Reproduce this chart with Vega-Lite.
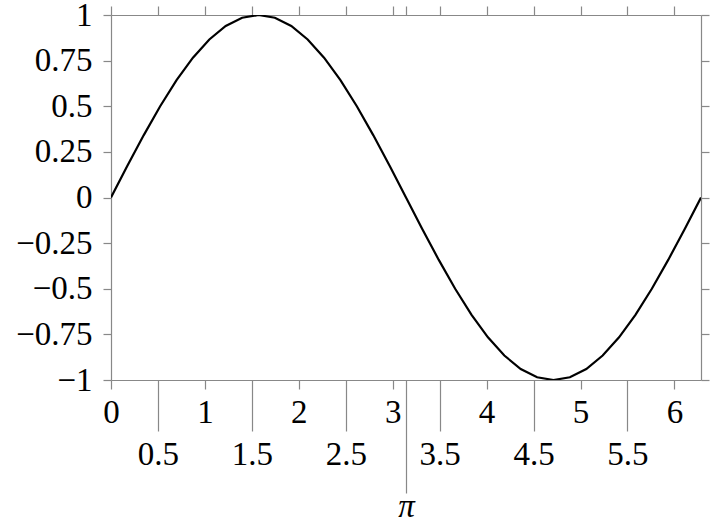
{
  "$schema": "https://vega.github.io/schema/vega-lite/v6.json",
  "autosize": {"type": "none"},
  "padding": {"left": 111, "top": 15, "right": 15, "bottom": 143},
  "width": 590,
  "height": 365,
  "background": "white",
  "config": {
    "view": {"stroke": null},
    "axis": {
      "grid": false,
      "title": null,
      "domainColor": "#888888",
      "domainWidth": 1.2,
      "tickColor": "#888888",
      "tickWidth": 1.2,
      "labelFont": "Liberation Serif",
      "labelFontSize": 33,
      "labelColor": "black",
      "labelOverlap": false,
      "labelFlush": false,
      "labelBound": false,
      "format": ".2~f"
    }
  },
  "data": {
    "values": [
      {"x": 0, "y": 0},
      {"x": 0.1745, "y": 0.1736},
      {"x": 0.3491, "y": 0.342},
      {"x": 0.5236, "y": 0.5},
      {"x": 0.6981, "y": 0.6428},
      {"x": 0.8727, "y": 0.766},
      {"x": 1.0472, "y": 0.866},
      {"x": 1.2217, "y": 0.9397},
      {"x": 1.3963, "y": 0.9848},
      {"x": 1.5708, "y": 1},
      {"x": 1.7453, "y": 0.9848},
      {"x": 1.9199, "y": 0.9397},
      {"x": 2.0944, "y": 0.866},
      {"x": 2.2689, "y": 0.766},
      {"x": 2.4435, "y": 0.6428},
      {"x": 2.618, "y": 0.5},
      {"x": 2.7925, "y": 0.342},
      {"x": 2.9671, "y": 0.1736},
      {"x": 3.1416, "y": 0},
      {"x": 3.3161, "y": -0.1736},
      {"x": 3.4907, "y": -0.342},
      {"x": 3.6652, "y": -0.5},
      {"x": 3.8397, "y": -0.6428},
      {"x": 4.0143, "y": -0.766},
      {"x": 4.1888, "y": -0.866},
      {"x": 4.3633, "y": -0.9397},
      {"x": 4.5379, "y": -0.9848},
      {"x": 4.7124, "y": -1},
      {"x": 4.8869, "y": -0.9848},
      {"x": 5.0615, "y": -0.9397},
      {"x": 5.236, "y": -0.866},
      {"x": 5.4105, "y": -0.766},
      {"x": 5.5851, "y": -0.6428},
      {"x": 5.7596, "y": -0.5},
      {"x": 5.9341, "y": -0.342},
      {"x": 6.1087, "y": -0.1736},
      {"x": 6.2832, "y": 0}
    ]
  },
  "layer": [
    {
      "mark": {"type": "line", "color": "black", "strokeWidth": 2.2, "clip": true},
      "encoding": {
        "x": {
          "field": "x", "type": "quantitative",
          "scale": {"domain": [0, 6.2832], "nice": false, "zero": false},
          "axis": {
            "orient": "bottom",
            "values": [0, 0.5, 1, 1.5, 2, 2.5, 3, 3.14159265, 3.5, 4, 4.5, 5, 5.5, 6],
            "tickSize": {"expr": "abs(datum.value - PI) < 0.01 ? 113 : (datum.value % 1 == 0 ? 9 : 51)"},
            "labelPadding": {"expr": "abs(datum.value - PI) < 0.01 ? -3 : 7"},
            "labelExpr": "abs(datum.value - PI) < 0.01 ? 'π' : datum.label",
            "labelFontStyle": {"expr": "abs(datum.value - PI) < 0.01 ? 'italic' : 'normal'"}
          }
        },
        "y": {
          "field": "y", "type": "quantitative",
          "scale": {"domain": [-1, 1], "nice": false, "zero": false},
          "axis": {
            "orient": "left",
            "values": [-1, -0.75, -0.5, -0.25, 0, 0.25, 0.5, 0.75, 1],
            "tickSize": 8,
            "labelPadding": 11
          }
        }
      }
    },
    {
      "mark": {"type": "line", "strokeOpacity": 0},
      "encoding": {
        "x": {
          "field": "x", "type": "quantitative",
          "axis": {
            "orient": "top",
            "values": [0, 0.5, 1, 1.5, 2, 2.5, 3, 3.14159265, 3.5, 4, 4.5, 5, 5.5, 6],
            "tickSize": 9,
            "labels": false
          }
        },
        "y": {
          "field": "y", "type": "quantitative",
          "axis": {
            "orient": "right",
            "values": [-1, -0.75, -0.5, -0.25, 0, 0.25, 0.5, 0.75, 1],
            "tickSize": 8,
            "labels": false
          }
        }
      }
    }
  ],
  "resolve": {"axis": {"x": "independent", "y": "independent"}}
}
